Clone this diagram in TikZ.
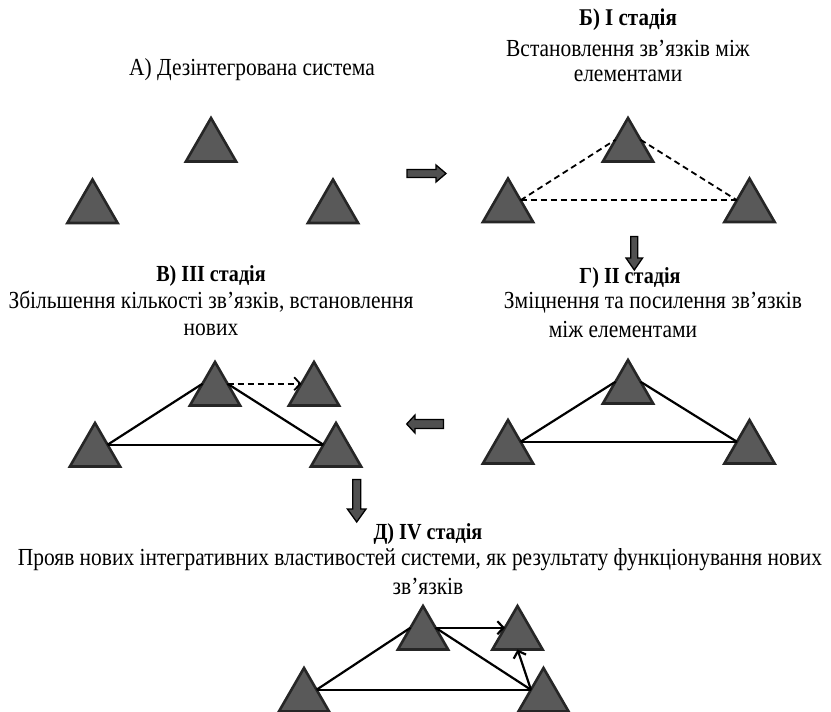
\documentclass[tikz,border=0pt]{standalone}
\usepackage{fontspec}
\setmainfont{Liberation Serif}[FakeStretch=0.875]
\usetikzlibrary{shapes.geometric,arrows.meta}
\definecolor{triFill}{HTML}{595959}
\definecolor{triLine}{HTML}{262626}
\definecolor{blkFill}{HTML}{505050}
\begin{document}
\begin{tikzpicture}[x=1pt,y=-1pt,
  tri/.style={regular polygon, regular polygon sides=3, minimum size=58pt, inner sep=0pt, outer sep=0pt, fill=triFill, draw=triLine, line width=2.6pt},
  link/.style={line width=2.2pt, draw=black},
  dlink/.style={line width=1.8pt, draw=black, dash pattern=on 6pt off 4pt},
  arr/.style={-{Straight Barb[length=6pt,width=13pt]}},
  blk/.style={fill=blkFill, draw=black, line width=1.3pt, line join=miter},
  txt/.style={font=\fontsize{24.5}{28}\selectfont, inner sep=0pt, anchor=center},
  hd/.style={font=\fontsize{23}{27}\selectfont\bfseries, inner sep=0pt, anchor=center}
]
\useasboundingbox (0,0) rectangle (831,712);

% ---- texts ----
\node[txt] (ta) at (252,70) {А) Дезінтегрована система};
\node[hd,font=\fontsize{24}{28}\selectfont\bfseries] (tb1) at (628,20) {Б) I стадія};
\node[txt] (tb2) at (628,48) {Встановлення зв’язків між};
\node[txt] (tb3) at (628,76) {елементами};
\node[hd] (tv1) at (211,276) {В) III стадія};
\node[txt] (tv2) at (211,302) {Збільшення кількості зв’язків, встановлення};
\node[txt] (tv3) at (211,330) {нових};
\node[hd] (tg1) at (630,278) {Г) II стадія};
\node[txt] (tg2) at (653,303) {Зміцнення та посилення зв’язків};
\node[txt] (tg3) at (623,330) {між елементами};
\node[hd] (td1) at (428,534) {Д) IV стадія};
\node[txt] (td2) at (420,560) {Прояв нових інтегративних властивостей системи, як результату функціонування нових};
\node[txt] (td3) at (428,586) {зв’язків};

% ---- block arrows ----
\draw[blk] (407,169.5) -- (436,169.5) -- (436,165) -- (446,173.5) -- (436,182) -- (436,177.5) -- (407,177.5) -- cycle;
\draw[blk] (630.8,236.5) -- (637.8,236.5) -- (637.8,258) -- (642.6,258) -- (634.3,270) -- (626,258) -- (630.8,258) -- cycle;
\draw[blk] (443.5,419.5) -- (415,419.5) -- (415,415) -- (406.7,424) -- (415,433) -- (415,428.5) -- (443.5,428.5) -- cycle;
\draw[blk] (352.7,479.5) -- (360.7,479.5) -- (360.7,509) -- (366,509) -- (356.7,522) -- (347.4,509) -- (352.7,509) -- cycle;

% ---- panel A ----
\node[tri] (a1) at (211,147) {};
\node[tri] (a2) at (92.5,208.5) {};
\node[tri] (a3) at (333,208.5) {};

% ---- panel B ----
\node[tri] (b1) at (628,147) {};
\node[tri] (b2) at (508,207.5) {};
\node[tri] (b3) at (749.5,207.5) {};
\draw[dlink] (b2.side 3) -- (b1.side 1);
\draw[dlink] (b1.side 3) -- (b3.side 1);
\draw[dlink] (b2.side 3) -- (b3.side 1);

% ---- panel G ----
\node[tri] (g1) at (628,389) {};
\node[tri] (g2) at (508,449) {};
\node[tri] (g3) at (749.5,449) {};
\draw[link] (g2.side 3) -- (g1.side 1);
\draw[link] (g1.side 3) -- (g3.side 1);
\draw[link] (g2.side 3) -- (g3.side 1);

% ---- panel V ----
\node[tri] (v1) at (215,391) {};
\node[tri] (v2) at (95,452) {};
\node[tri] (v3) at (336,452) {};
\node[tri] (v4) at (314,391) {};
\draw[link] (v2.side 3) -- (v1.side 1);
\draw[link] (v1.side 3) -- (v3.side 1);
\draw[link] (v2.side 3) -- (v3.side 1);
\draw[dlink,arr] (v1.side 3) -- (v4.side 1);

% ---- panel D ----
\node[tri] (d1) at (423,635) {};
\node[tri] (d2) at (304,697) {};
\node[tri] (d3) at (543.5,697) {};
\node[tri] (d4) at (517.5,635) {};
\draw[link] (d2.side 3) -- (d1.side 1);
\draw[link] (d1.side 3) -- (d3.side 1);
\draw[link] (d2.side 3) -- (d3.side 1);
\draw[link,arr] (d1.side 3) -- (d4.side 1);
\draw[link,arr] (d3.side 1) -- (d4.side 2);
\end{tikzpicture}
\end{document}
